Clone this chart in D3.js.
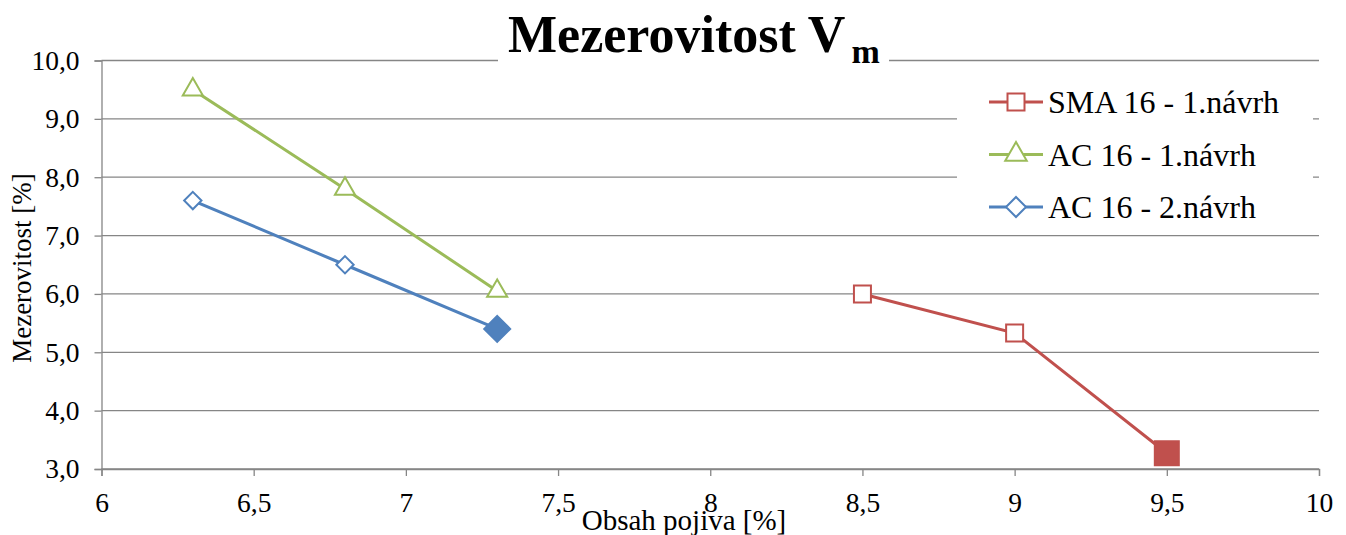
<!DOCTYPE html>
<html>
<head>
<meta charset="utf-8">
<script src="https://cdn.jsdelivr.net/npm/d3@7"></script>
<style>
  body { margin: 0; background: #fff; }
</style>
</head>
<body>
<div id="chart"></div>
<script>
// data
const smaX = [8.5, 9.0, 9.5];
const smaY = [6.0, 5.33, 3.27];
const ac1X = [6.3, 6.8, 7.3];
const ac1Y = [9.5, 7.8, 6.05];
const ac2X = [6.3, 6.8, 7.3];
const ac2Y = [7.6, 6.5, 5.4];
const xTicks = [6, 6.5, 7, 7.5, 8, 8.5, 9, 9.5, 10];
const yTicks = [3, 4, 5, 6, 7, 8, 9, 10];

const series = [
  { name: "SMA 16 - 1.návrh", xs: smaX, ys: smaY, color: "#C0504D", shape: "square" },
  { name: "AC 16 - 1.návrh", xs: ac1X, ys: ac1Y, color: "#9BBB59", shape: "triangle" },
  { name: "AC 16 - 2.návrh", xs: ac2X, ys: ac2Y, color: "#4F81BD", shape: "diamond" }
];

const FONT = "'Liberation Serif', 'Times New Roman', 'DejaVu Serif', serif";

const width = 1346;
const height = 535;
const margin = { top: 60.5, right: 27, bottom: 66, left: 101.5 };
const w = width - margin.left - margin.right;
const h = height - margin.top - margin.bottom;

const x = d3.scaleLinear().domain([6, 10]).range([0, w]);
const y = d3.scaleLinear().domain([3, 10]).range([h, 0]);

const svg = d3.select("#chart").append("svg")
  .attr("width", width).attr("height", height)
  .attr("font-family", FONT);

const g = svg.append("g").attr("transform", `translate(${margin.left},${margin.top})`);

const grey = "#868686";

// horizontal grid
g.selectAll(".grid").data(yTicks).join("line")
  .attr("x1", 0).attr("x2", w)
  .attr("y1", d => y(d)).attr("y2", d => y(d))
  .attr("stroke", grey).attr("stroke-width", 1.3);

// y axis
const yAxis = g.append("g")
  .call(d3.axisLeft(y).tickValues(yTicks).tickSize(7).tickPadding(15)
    .tickFormat(d => d3.format(".1f")(d).replace(".", ",")))
  .attr("font-family", FONT).attr("font-size", 27.5);
yAxis.select(".domain").attr("stroke", grey).attr("stroke-width", 1.3);
yAxis.selectAll(".tick line").attr("stroke", grey).attr("stroke-width", 1.3);
yAxis.selectAll("text").attr("fill", "#000");

// x axis
const xAxis = g.append("g").attr("transform", `translate(0,${h})`)
  .call(d3.axisBottom(x).tickValues(xTicks).tickSize(7).tickPadding(16)
    .tickFormat(d => String(d).replace(".", ",")))
  .attr("font-family", FONT).attr("font-size", 27.5);
xAxis.select(".domain").attr("stroke", grey).attr("stroke-width", 1.3);
xAxis.selectAll(".tick line").attr("stroke", grey).attr("stroke-width", 1.3);
xAxis.selectAll("text").attr("fill", "#000");

// axis titles
svg.append("text")
  .attr("transform", `translate(31,268) rotate(-90)`)
  .attr("text-anchor", "middle")
  .attr("font-size", 27)
  .text("Mezerovitost [%]");

svg.append("text")
  .attr("x", 684).attr("y", 530)
  .attr("text-anchor", "middle")
  .attr("font-size", 29)
  .text("Obsah pojiva [%]");

// title with white box over the top gridline
svg.append("rect").attr("x", 498).attr("y", 5).attr("width", 391).attr("height", 65).attr("fill", "#fff");
const title = svg.append("text")
  .attr("x", 508).attr("y", 52)
  .attr("font-size", 52).attr("font-weight", "bold");
title.append("tspan").text("Mezerovitost V");
title.append("tspan").attr("dx", 6).attr("dy", 11).attr("font-size", 34).text("m");

function symbolPath(shape, size) {
  if (shape === "diamond") {
    const r = Math.sqrt(size / 2);
    return `M0,${-r}L${r},0L0,${r}L${-r},0Z`;
  }
  const type = shape === "square" ? d3.symbolSquare : d3.symbolTriangle;
  return d3.symbol().type(type).size(size)();
}

const markerSize = { square: 289, triangle: 175, diamond: 150 };
const bigSize = { square: 576, triangle: 175, diamond: 338 };

const line = d3.line().x(d => x(d[0])).y(d => y(d[1]));

series.forEach(s => {
  const pts = s.xs.map((v, i) => [v, s.ys[i]]);
  const isLast = i => i === pts.length - 1 && s.shape !== "triangle";
  g.append("path").datum(pts)
    .attr("fill", "none").attr("stroke", s.color).attr("stroke-width", 3)
    .attr("d", line);
  g.selectAll(null).data(pts).join("path")
    .attr("transform", d => `translate(${x(d[0])},${y(d[1])})`)
    .attr("d", (d, i) => symbolPath(s.shape, isLast(i) ? bigSize[s.shape] : markerSize[s.shape]))
    .attr("fill", (d, i) => isLast(i) ? s.color : "#fff")
    .attr("stroke", s.color).attr("stroke-width", 2);
});

// legend
svg.append("rect").attr("x", 957).attr("y", 66).attr("width", 356).attr("height", 166).attr("fill", "#fff");
const leg = svg.append("g").selectAll("g").data(series).join("g")
  .attr("transform", (d, i) => `translate(989,${102 + i * 52.5})`);
leg.append("line").attr("x1", 0).attr("x2", 54).attr("y1", 0).attr("y2", 0)
  .attr("stroke", d => d.color).attr("stroke-width", 3);
leg.append("path")
  .attr("transform", "translate(27,0)")
  .attr("d", d => symbolPath(d.shape, d.shape === "diamond" ? 200 : (d.shape === "triangle" ? 200 : markerSize[d.shape])))
  .attr("fill", "#fff").attr("stroke", d => d.color).attr("stroke-width", 2);
leg.append("text").attr("x", 59).attr("y", 11)
  .attr("font-size", 32)
  .text(d => d.name);
</script>
</body>
</html>
